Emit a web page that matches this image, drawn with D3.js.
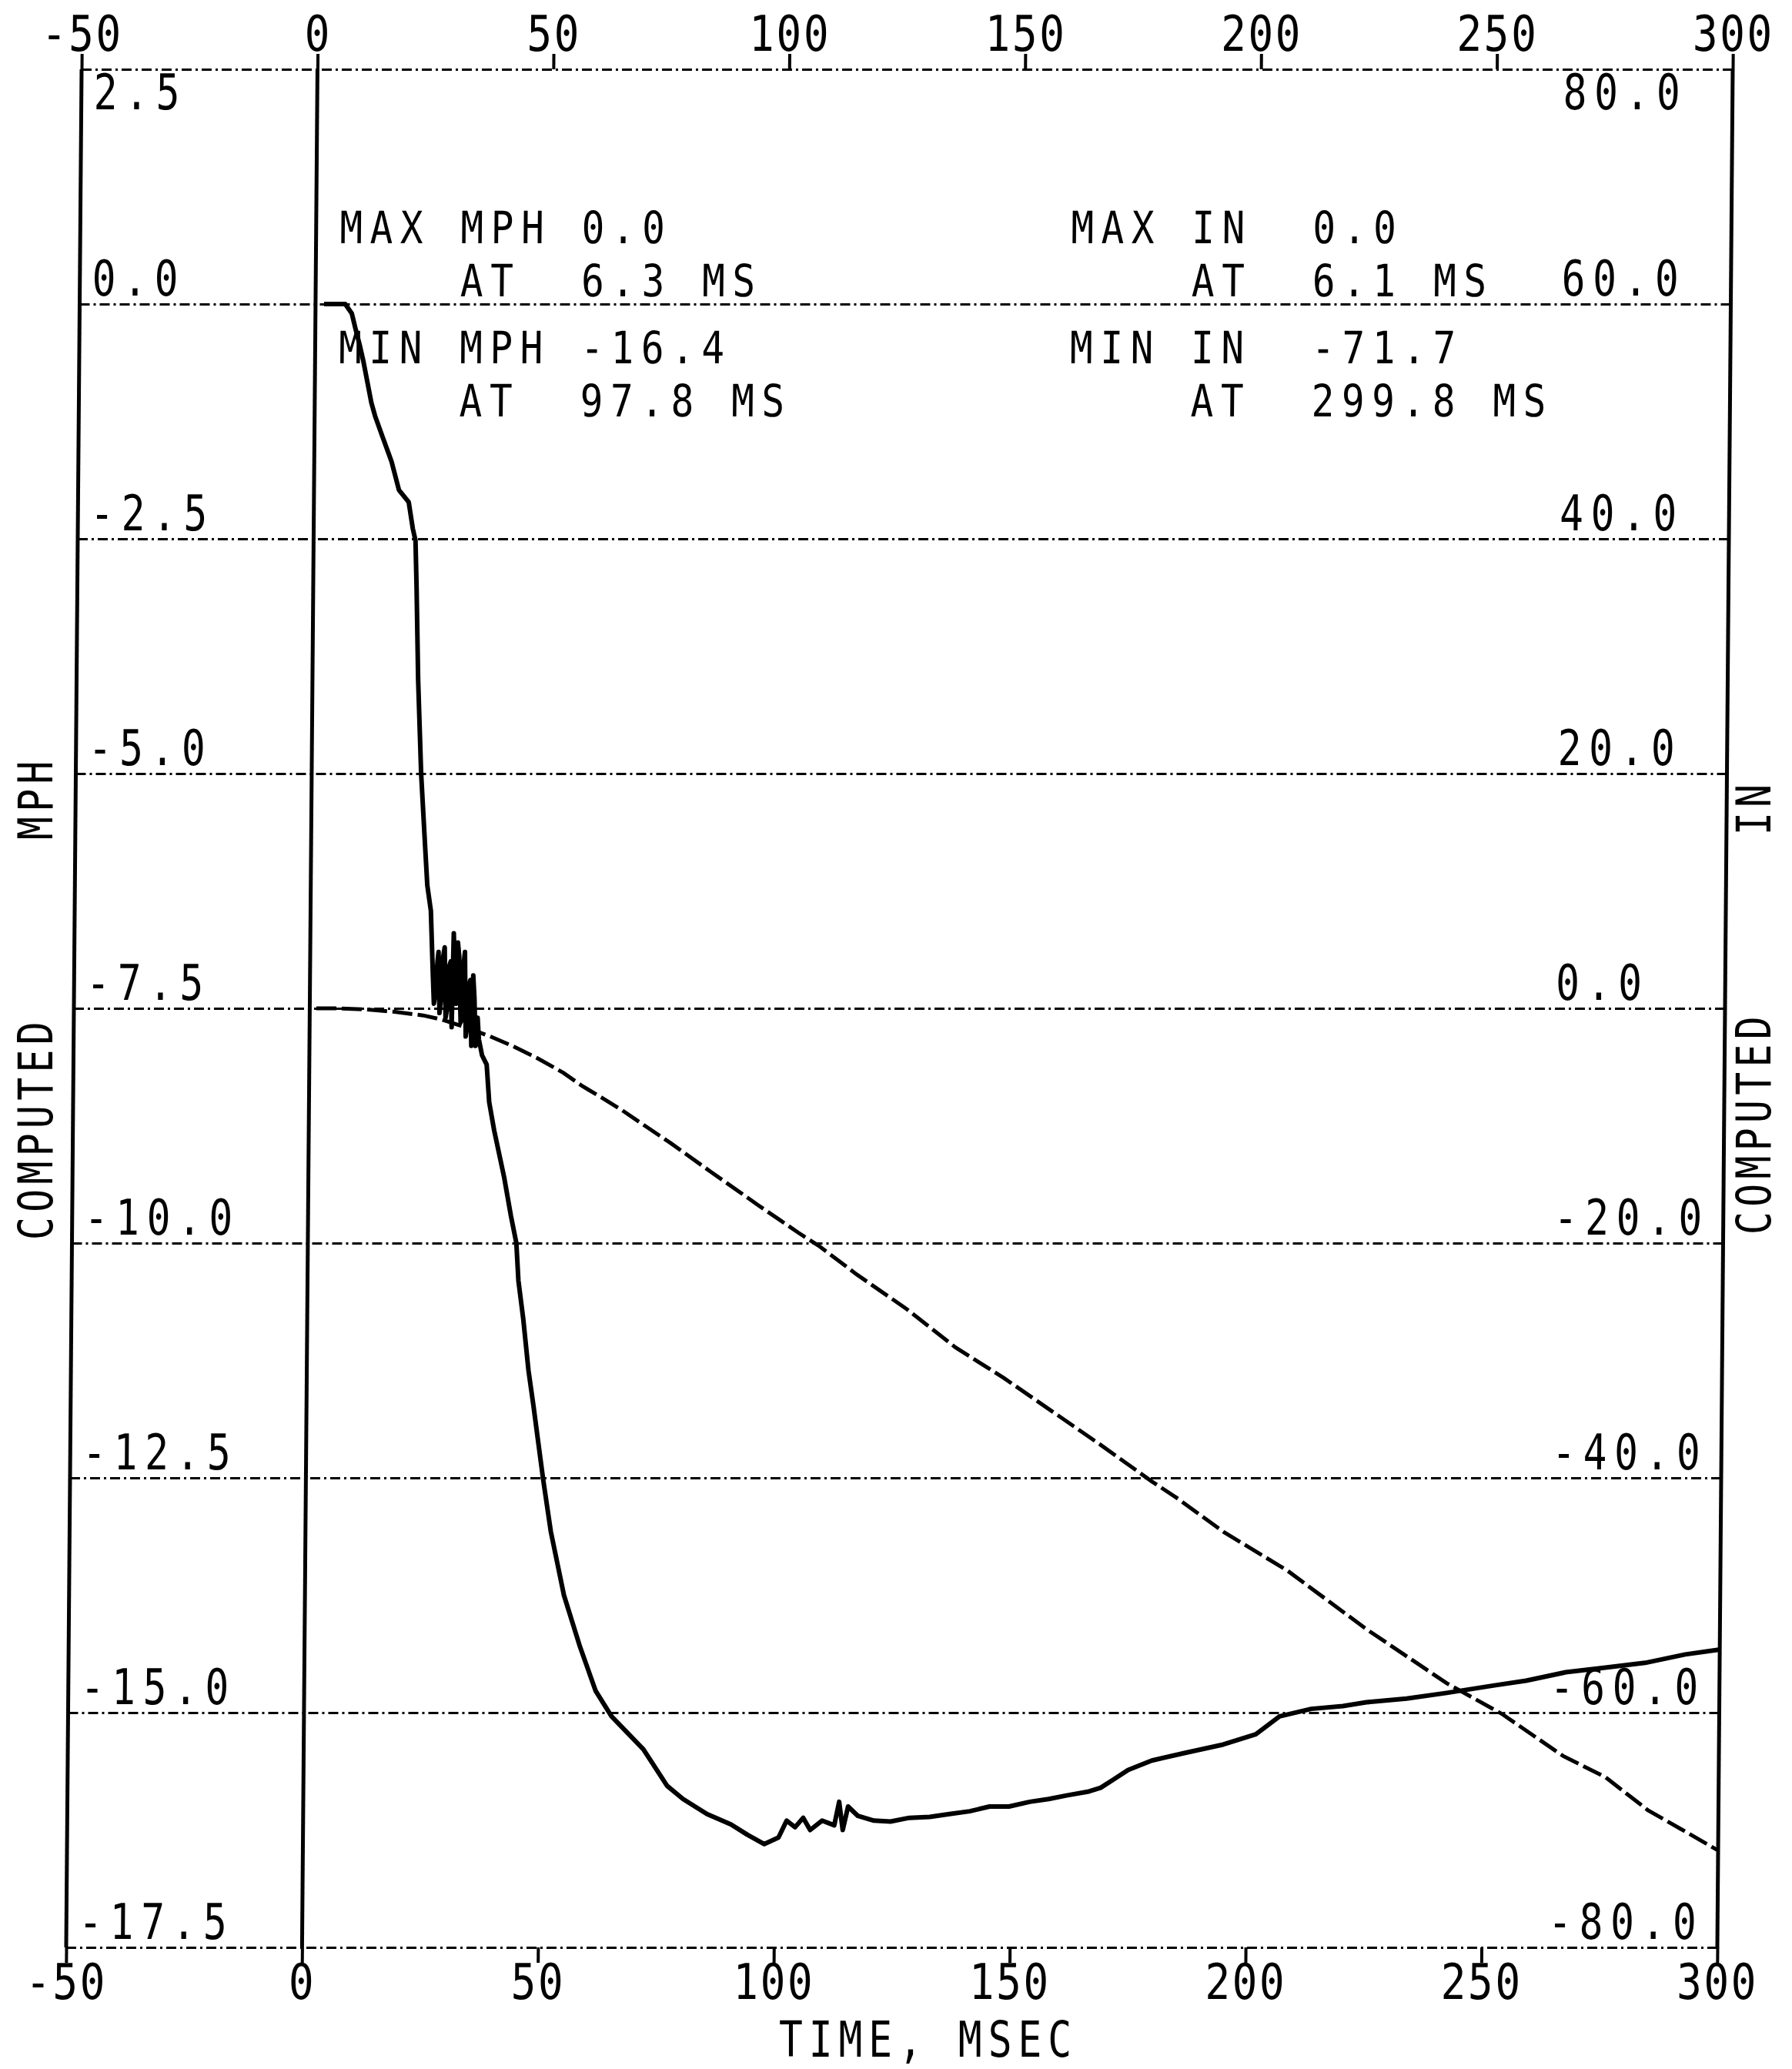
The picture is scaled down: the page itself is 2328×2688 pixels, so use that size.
<!DOCTYPE html>
<html>
<head>
<meta charset="utf-8">
<script src="https://cdn.jsdelivr.net/npm/d3@7/dist/d3.min.js"></script>
<style>
body { margin: 0; background: #fff; }
text { font-family: "DejaVu Sans Mono", "Liberation Mono", monospace; fill: #000; }
</style>
</head>
<body>
<script>
// computed velocity (MPH, left axis) against time (ms)
var mphTime = [1.8, 4, 6.3, 7.7, 8.5, 9.4, 10.2, 11.0, 12.0, 12.8, 14.4, 16.4, 18.0, 20.1, 21.0, 21.6,
  21.9, 22.4, 23.2, 24.2, 24.7, 25.5, 26.0, 26.3, 26.6, 27.0, 27.2, 27.5, 27.8, 28.2, 28.5, 28.8, 29.1,
  29.5, 29.8, 30.1, 30.4, 30.7, 31.0, 31.3, 31.6, 32.0, 32.3, 32.6, 32.8, 33.1, 33.4, 33.7, 34.0,
  34.3, 34.6, 34.9, 35.2, 35.6, 35.9, 36.6, 37.6, 38.2, 39.3, 41.5, 43.0, 44.2, 44.7, 45.8,
  47.0, 48.1, 49.1, 50.3, 52.0, 54.9, 58.4, 61.8, 65.2, 72.0, 77.1, 80.5, 85.6, 90.7, 94.2, 97.8,
  100.8, 102.5, 104.3, 106.0, 107.5, 110.0, 112.6, 113.6, 114.4, 115.5, 117.6, 121.0, 124.5, 128.5,
  132.8, 137.0, 141.3, 145.5, 149.6, 154.0, 158.0, 162.0, 166.5, 169.0, 171.5, 174.8, 179.8, 186.7,
  194.9, 201.8, 206.8, 213.5, 220.2, 225.2, 233.7, 242.2, 252.3, 259.0, 267.4, 275.8, 284.2, 292.7, 299.8];
var mphValue = [0, 0, 0, -0.10, -0.26, -0.43, -0.60, -0.80, -1.05, -1.19, -1.41, -1.68, -1.98, -2.11, -2.39, -2.52,
  -3.0, -4.0, -5.0, -5.8, -6.19, -6.46, -7.1, -7.45, -7.35, -7.0, -6.9, -7.55, -7.4, -6.95, -6.85, -7.6, -7.5,
  -7.05, -7.0, -7.7, -6.7, -7.1, -7.45, -6.8, -6.95, -7.65, -7.6, -7.0, -6.9, -7.8, -7.7, -7.25, -7.2,
  -7.9, -7.15, -7.4, -7.9, -7.6, -7.83, -8.0, -8.1, -8.5, -8.8, -9.3, -9.71, -10.0, -10.4, -10.81,
  -11.36, -11.73, -12.09, -12.52, -13.07, -13.75, -14.30, -14.77, -15.04, -15.39, -15.78, -15.92, -16.08, -16.19, -16.30, -16.4,
  -16.33, -16.15, -16.22, -16.12, -16.25, -16.15, -16.2, -15.95, -16.25, -16.0, -16.1, -16.15, -16.16, -16.12,
  -16.11, -16.08, -16.05, -16.0, -16.0, -15.95, -15.92, -15.88, -15.84, -15.8, -15.72, -15.61, -15.51, -15.43,
  -15.34, -15.23, -15.04, -14.96, -14.93, -14.89, -14.85, -14.79, -14.71, -14.66, -14.57, -14.52, -14.47, -14.38, -14.33];

// computed displacement (IN, right axis) against time (ms)
var inTime = [1.4, 6.1, 12, 18, 24, 28, 32.2, 38.1, 43, 48.4, 53.9, 57.9, 62, 66.3, 71.6, 76.8, 85.2, 95.5,
  103.9, 108.2, 116.5, 127.0, 137.5, 147.8, 158.3, 168.8, 179.3, 184.6, 194.6, 208.2, 225.1, 242.2,
  253.9, 267, 276, 285, 292, 299.8];
var inValue = [0, 0, -0.1, -0.3, -0.6, -0.95, -1.5, -2.36, -3.2, -4.26, -5.5, -6.62, -7.6, -8.66, -10.1, -11.5, -13.9, -16.8,
  -19.1, -20.2, -22.7, -25.6, -28.9, -31.5, -34.4, -37.3, -40.3, -41.7, -44.6, -47.9, -52.9, -57.5,
  -60.1, -63.7, -65.5, -68.3, -69.9, -71.7];

var timeTicks = [-50, 0, 50, 100, 150, 200, 250, 300];
var mphTicks = [2.5, 0, -2.5, -5, -7.5, -10, -12.5, -15, -17.5];
var inTicks = [80, 60, 40, 20, 0, -20, -40, -60, -80];
var notesMph = ["MAX MPH 0.0", "    AT  6.3 MS", "MIN MPH -16.4", "    AT  97.8 MS"];
var notesIn = ["MAX IN  0.0", "    AT  6.1 MS", "MIN IN  -71.7", "    AT  299.8 MS"];

var width = 2328, height = 2688;
var w = 2145, h = 2440;

var svg = d3.select("body").append("svg")
    .attr("width", width)
    .attr("height", height);
svg.append("rect").attr("width", width).attr("height", height).attr("fill", "#fff");

// the scanned plot leans a little, so the frame is sheared
var g = svg.append("g")
    .attr("transform", "translate(106,90) skewX(-0.47)");

var x = d3.scaleLinear().domain([-50, 300]).range([0, w]);
var yL = d3.scaleLinear().domain([2.5, -17.5]).range([0, h]);
var yR = d3.scaleLinear().domain([80, -80]).range([0, h]);

function squeeze(sel, sx, ls) {
  sel.attr("transform", "scale(" + sx + ",1)")
     .style("font-size", "64px")
     .style("letter-spacing", ls + "px");
}

// horizontal grid
var grid = g.append("g")
    .call(d3.axisLeft(yL).tickValues(mphTicks).tickSize(-w).tickFormat(""));
grid.select(".domain").remove();
grid.selectAll("line")
    .attr("stroke", "#000")
    .attr("stroke-width", 3)
    .attr("stroke-dasharray", "13,5,3,5");

// frame and zero line
g.selectAll(".vline")
  .data([-50, 0, 300])
  .join("line")
    .attr("class", "vline")
    .attr("x1", function(d) { return x(d); })
    .attr("x2", function(d) { return x(d); })
    .attr("y1", 0)
    .attr("y2", h)
    .attr("stroke", "#000")
    .attr("stroke-width", 5);

// time axes top and bottom
var topAxis = g.append("g")
    .call(d3.axisTop(x).tickValues(timeTicks).tickSize(20).tickPadding(4)
      .tickFormat(function(d) { return String(d); }));
var botAxis = g.append("g")
    .attr("transform", "translate(0," + h + ")")
    .call(d3.axisBottom(x).tickValues(timeTicks).tickSize(20).tickPadding(2)
      .tickFormat(function(d) { return String(d); }));
[topAxis, botAxis].forEach(function(a) {
  a.select(".domain").remove();
  a.selectAll("line").attr("stroke", "#000").attr("stroke-width", 4);
  a.selectAll("text").attr("fill", "#000").call(squeeze, 0.85, 3);
  a.attr("font-family", null).attr("font-size", null);
});

// MPH labels, inside the left edge
var leftAxis = g.append("g")
    .call(d3.axisRight(yL).tickValues(mphTicks).tickSize(0).tickPadding(20)
      .tickFormat(function(d) { return d.toFixed(1); }));
leftAxis.select(".domain").remove();
leftAxis.selectAll("text")
    .attr("fill", "#000")
    .attr("dy", function(d) { return d === 2.5 ? 51 : -12; })
    .call(squeeze, 0.8, 12);
leftAxis.attr("font-family", null).attr("font-size", null);

// IN labels, inside the right edge
var rightAxis = g.append("g")
    .attr("transform", "translate(" + (w - 220) + ",0)")
    .call(d3.axisRight(yR).tickValues(inTicks).tickSize(0).tickPadding(0)
      .tickFormat(function(d) { return d.toFixed(1); }));
rightAxis.select(".domain").remove();
rightAxis.selectAll("text")
    .attr("fill", "#000")
    .attr("dy", function(d) { return d === 80 ? 51 : -12; })
    .call(squeeze, 0.8, 12);
rightAxis.attr("font-family", null).attr("font-size", null);

// curves
var mphData = mphTime.map(function(t, i) { return [t, mphValue[i]]; });
var inData = inTime.map(function(t, i) { return [t, inValue[i]]; });

var mphLine = d3.line()
    .x(function(d) { return x(d[0]); })
    .y(function(d) { return yL(d[1]); });
var inLine = d3.line()
    .x(function(d) { return x(d[0]); })
    .y(function(d) { return yR(d[1]); });

g.append("path")
    .datum(inData)
    .attr("fill", "none")
    .attr("stroke", "#000")
    .attr("stroke-width", 5)
    .attr("stroke-dasharray", "26,7")
    .attr("d", inLine);

g.append("path")
    .datum(mphData)
    .attr("fill", "none")
    .attr("stroke", "#000")
    .attr("stroke-width", 6)
    .attr("stroke-linejoin", "round")
    .attr("d", mphLine);

// max / min notes, two columns of four lines
var baselines = [226, 295, 382, 451];
[[notesMph, x(5)], [notesIn, x(160)]].forEach(function(block) {
  g.append("g").selectAll("text")
    .data(block[0])
    .join("text")
      .attr("xml:space", "preserve")
      .style("white-space", "pre")
      .style("font-size", "58px")
      .style("letter-spacing", "11.3px")
      .attr("transform", function(d, i) {
        return "translate(" + block[1] + "," + baselines[i] + ") scale(0.85,1)";
      })
      .text(function(d) { return d; });
});

// axis titles
svg.append("text")
    .attr("transform", "translate(1206,2672) scale(0.8,1)")
    .attr("text-anchor", "middle")
    .style("font-size", "64px")
    .style("letter-spacing", "10px")
    .text("TIME, MSEC");

var sideLabels = [
  {text: "COMPUTED", x: 68, y: 1611},
  {text: "MPH", x: 68, y: 1091},
  {text: "COMPUTED", x: 2300, y: 1604},
  {text: "IN", x: 2300, y: 1085}
];
svg.selectAll(".side")
  .data(sideLabels)
  .join("text")
    .attr("class", "side")
    .attr("transform", function(d) {
      return "translate(" + d.x + "," + d.y + ") rotate(-90) scale(0.8,1)";
    })
    .style("font-size", "62px")
    .style("letter-spacing", "8px")
    .text(function(d) { return d.text; });
</script>
</body>
</html>
